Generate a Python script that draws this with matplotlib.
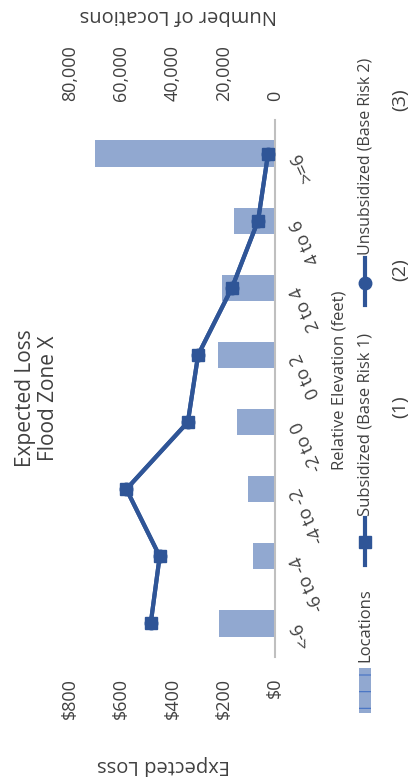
import matplotlib
matplotlib.use('Agg')
import matplotlib.pyplot as plt
from matplotlib.patches import Rectangle
from matplotlib.lines import Line2D

plt.rcParams['font.family'] = ['Open Sans', 'DejaVu Sans']
plt.rcParams['hatch.linewidth'] = 0.8

categories = ['<-6', '-6 to -4', '-4 to -2', '-2 to 0', '0 to 2', '2 to 4', '4 to 6', '>=6']
locations = [22000, 8600, 10500, 14800, 22300, 20700, 16000, 70200]
subsidized = [485, 450, 580, 340, 300, 168, 66, 27]
unsubsidized = [485, 450, 580, 340, 300, 168, 66, 27]

loss_ticks = [0, 200, 400, 600, 800]
loss_labels = ['$0', '$200', '$400', '$600', '$800']
loc_ticks = [0, 20000, 40000, 60000, 80000]
loc_labels = ['0', '20,000', '40,000', '60,000', '80,000']

W, H = 413, 781
bar_color = '#91a8d0'
line_color = '#2f5597'
text_color = '#404040'


def fx(x):
    return x / W


def fy(y):
    return 1 - y / H


fig = plt.figure(figsize=(W / 100, H / 100), dpi=100)
ax = fig.add_axes([fx(70), fy(657), 205 / W, 537 / H])
ax2 = ax.twiny()

ypos = list(range(len(categories)))

# bars: number of locations (top axis)
ax.barh(ypos, locations, height=0.39, color=bar_color, zorder=2)
ax.set_xlim(80000, 0)
ax.set_ylim(-0.5, 7.5)
ax.xaxis.tick_top()
ax.set_xticks(loc_ticks)
ax.set_xticklabels(loc_labels, rotation=90, fontsize=13, color=text_color)
ax.tick_params(axis='x', length=0, pad=14)
ax.yaxis.tick_right()
ax.set_yticks(ypos)
ax.set_yticklabels(categories, fontsize=13, color=text_color)
ax.tick_params(axis='y', length=0, pad=15)
for lab in ax.get_yticklabels():
    lab.set_rotation(115)
    lab.set_rotation_mode('anchor')
    lab.set_ha('right')
    lab.set_va('center')
for s in ['top', 'bottom', 'left']:
    ax.spines[s].set_visible(False)
ax.spines['right'].set_color('#bfbfbf')
ax.spines['right'].set_linewidth(1.5)

# lines: expected loss (bottom axis)
ax2.plot(unsubsidized, ypos, color=line_color, lw=3, marker='o', ms=9)
ax2.plot(subsidized, ypos, color=line_color, lw=3, marker='s', ms=9)
ax2.set_xlim(800, 0)
ax2.xaxis.tick_bottom()
ax2.set_xticks(loss_ticks)
ax2.set_xticklabels(loss_labels, rotation=90, fontsize=13, color=text_color)
ax2.tick_params(axis='x', length=0, pad=15)
for s in ax2.spines.values():
    s.set_visible(False)

# axis titles and chart title
fig.text(fx(163), fy(765), 'Expected Loss', rotation=180, ha='center', va='center',
         fontsize=14.5, color=text_color)
fig.text(fx(178), fy(15), 'Number of Locations', rotation=180, ha='center', va='center',
         fontsize=14.5, color=text_color)
fig.text(fx(340), fy(380), 'Relative Elevation (feet)', rotation=90, ha='center', va='center',
         fontsize=12, color=text_color)
fig.text(fx(37), fy(398), 'Expected Loss\nFlood Zone X', rotation=90, ha='center', va='center',
         ma='center', fontsize=15, color=text_color, linespacing=1.1)

# legend
fig.add_artist(Rectangle((fx(359), fy(713)), 12 / W, 45 / H, transform=fig.transFigure,
                         facecolor=bar_color, edgecolor='#4472c4', hatch='+', lw=0))
fig.text(fx(365), fy(662), 'Locations', rotation=90, ha='center', va='bottom',
         fontsize=12, color=text_color)
fig.add_artist(Line2D([fx(365)] * 3, [fy(565), fy(542), fy(518)], transform=fig.transFigure,
                      color=line_color, lw=3, marker='s', ms=9, markevery=[1]))
fig.text(fx(365), fy(516), 'Subsidized (Base Risk 1)', rotation=90, ha='center', va='bottom',
         fontsize=12, color=text_color)
fig.add_artist(Line2D([fx(365)] * 3, [fy(305), fy(283), fy(258)], transform=fig.transFigure,
                      color=line_color, lw=3, marker='o', ms=9, markevery=[1]))
fig.text(fx(365), fy(255), 'Unsubsidized (Base Risk 2)', rotation=90, ha='center', va='bottom',
         fontsize=11.5, color=text_color)

for label, y in [('(1)', 407), ('(2)', 270), ('(3)', 100)]:
    fig.text(fx(400), fy(y), label, rotation=90, ha='center', va='center',
             fontsize=14, color=text_color)

fig.savefig('out.png', dpi=100)
